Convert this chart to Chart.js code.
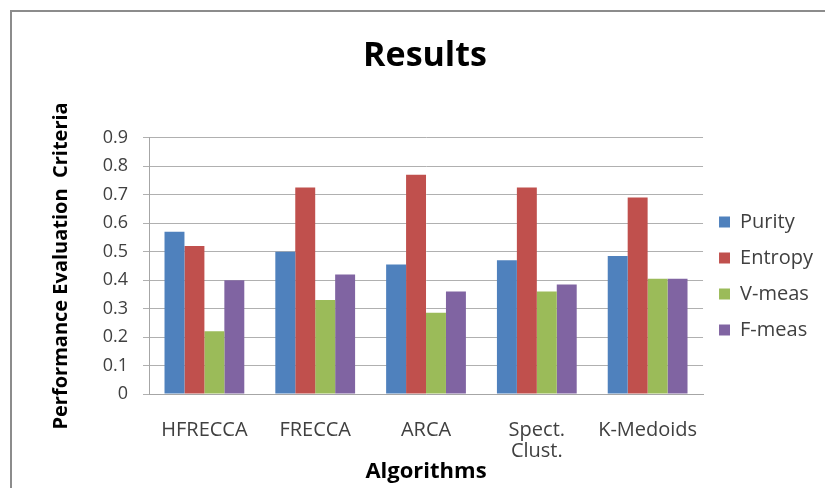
<!DOCTYPE html>
<html>
<head>
<meta charset="utf-8">
<script src="https://cdn.jsdelivr.net/npm/chart.js@4.4.1/dist/chart.umd.min.js"></script>
<style>
  html, body { margin: 0; padding: 0; background: #ffffff; }
  #wrap { position: relative; width: 825px; height: 488px; overflow: hidden; }
  #frame { position: absolute; left: 10px; top: 10px; width: 900px; height: 600px;
           border: 2px solid #8c8c8c; box-sizing: border-box; }
  canvas { position: absolute; left: 0; top: 0; }
</style>
</head>
<body>
<div id="wrap">
  <div id="frame"></div>
  <canvas id="c" width="825" height="488"></canvas>
</div>
<script>
const categories = ['HFRECCA', 'FRECCA', 'ARCA', ['Spect.', 'Clust.'], 'K-Medoids'];
const purity  = [0.57, 0.50, 0.455, 0.47, 0.485];
const entropy = [0.52, 0.725, 0.77, 0.725, 0.69];
const vmeas   = [0.22, 0.33, 0.285, 0.36, 0.405];
const fmeas   = [0.40, 0.42, 0.36, 0.385, 0.405];
const seriesNames = ['Purity', 'Entropy', 'V-meas', 'F-meas'];
const seriesColors = ['#4F81BD', '#C0504D', '#9BBB59', '#8064A2'];
const yTickLabels = ['0', '0.1', '0.2', '0.3', '0.4', '0.5', '0.6', '0.7', '0.8', '0.9'];

const FONT = "'Open Sans', 'DejaVu Sans', sans-serif";
const seriesValues = [purity, entropy, vmeas, fmeas];

const datasets = seriesNames.map((name, i) => ({
  label: name,
  data: seriesValues[i],
  backgroundColor: seriesColors[i],
  borderWidth: 0,
  categoryPercentage: 0.72,
  barPercentage: 1.0
}));

new Chart(document.getElementById('c'), {
  type: 'bar',
  data: { labels: categories, datasets: datasets },
  options: {
    responsive: false,
    animation: false,
    devicePixelRatio: 1,
    layout: { padding: { left: 27, right: 2, top: 0, bottom: 0 } },
    plugins: {
      title: {
        display: true,
        text: 'Results',
        color: '#000000',
        font: { family: FONT, size: 34, weight: 'bold', lineHeight: 1.2 },
        padding: { top: 36, bottom: 61 }
      },
      legend: {
        display: true,
        position: 'right',
        align: 'center',
        title: { display: true, text: '', font: { size: 10, lineHeight: 1 }, padding: { top: 27, bottom: 27 } },
        labels: {
          color: '#404040',
          font: { family: FONT, size: 20 },
          boxWidth: 11,
          boxHeight: 11,
          padding: 16
        }
      },
      tooltip: { enabled: false }
    },
    scales: {
      x: {
        grid: { display: false, drawTicks: false },
        border: { display: true, color: '#a6a6a6', width: 1 },
        ticks: {
          color: '#404040',
          font: { family: FONT, size: 20, lineHeight: 1.05 },
          padding: 26,
          maxRotation: 0,
          autoSkip: false
        },
        title: {
          display: true,
          text: 'Algorithms',
          color: '#000000',
          font: { family: FONT, size: 22, weight: 'bold', lineHeight: 1.0 },
          padding: { top: 0, bottom: 5 }
        },
        afterFit: (scale) => { scale.height = 94; }
      },
      y: {
        min: 0,
        max: 0.9,
        grid: { color: '#b0b0b0', lineWidth: 1, drawTicks: true, tickLength: 6 },
        border: { display: true, color: '#a6a6a6', width: 1 },
        ticks: {
          stepSize: 0.1,
          color: '#404040',
          font: { family: FONT, size: 18 },
          padding: 15,
          callback: (value, index) => yTickLabels[index]
        },
        title: {
          display: true,
          text: 'Performance Evaluation  Criteria',
          color: '#000000',
          font: { family: FONT, size: 20, weight: 'bold', lineHeight: 1.2 },
          padding: { top: 22, bottom: 0 }
        },
        afterFit: (scale) => { scale.width = 122; }
      }
    }
  }
});
</script>
</body>
</html>
